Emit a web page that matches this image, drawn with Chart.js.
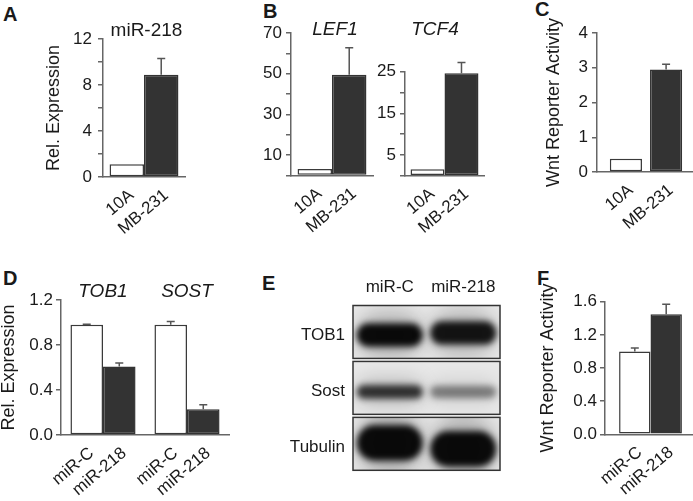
<!DOCTYPE html>
<html>
<head>
<meta charset="utf-8">
<script src="https://cdn.jsdelivr.net/npm/chart.js@4.4.1/dist/chart.umd.min.js"></script>
<style>
  body { margin: 0; background: #fff; width: 693px; height: 501px; overflow: hidden; position: relative;
         font-family: "Liberation Sans", Arial, sans-serif; }
  canvas { position: absolute; }
  .tag { position: absolute; font-weight: bold; font-size: 20px; line-height: 1; color: #1a1a1a; }
</style>
</head>
<body>
<div class="tag" style="left:3px;top:4px">A</div>
<div class="tag" style="left:263px;top:1px">B</div>
<div class="tag" style="left:535px;top:-1px">C</div>
<div class="tag" style="left:3px;top:268px">D</div>
<div class="tag" style="left:262px;top:273px">E</div>
<div class="tag" style="left:537px;top:268px">F</div>

<canvas id="panelA" width="200" height="245" style="left:0px;top:0px;width:200px;height:245px"></canvas>
<canvas id="panelLef1" width="155" height="245" style="left:225px;top:0px;width:155px;height:245px"></canvas>
<canvas id="panelTcf4" width="118" height="245" style="left:372px;top:0px;width:118px;height:245px"></canvas>
<canvas id="panelC" width="175" height="245" style="left:520px;top:0px;width:175px;height:245px"></canvas>
<canvas id="panelD" width="242" height="251" style="left:-2px;top:250px;width:242px;height:251px"></canvas>
<canvas id="panelE" width="250" height="210" style="left:255px;top:280px;width:250px;height:210px"></canvas>
<canvas id="panelF" width="166" height="251" style="left:530px;top:250px;width:166px;height:251px"></canvas>

<script>
// values
const cellLines = ['10A', 'MB-231'];
const mir218Expr = [1.1, 8.9];
const mir218Err = [0, 1.4];
const lef1Expr = [3.2, 49.5];
const lef1Err = [0, 13.3];
const tcf4Expr = [1.6, 24.6];
const tcf4Err = [0, 2.6];
const wntCellLines = [0.38, 2.95];
const wntCellLinesErr = [0, 0.15];

const transfections = ['miR-C', 'miR-218'];
const targetGenes = ['TOB1', 'SOST'];
const targetMirC = [0.98, 0.98];
const targetMirCErr = [0.005, 0.03];
const targetMir218 = [0.61, 0.23];
const targetMir218Err = [0.03, 0.04];
const wntTransfected = [1.0, 1.45];
const wntTransfectedErr = [0.04, 0.12];

const blotProteins = ['TOB1', 'Sost', 'Tubulin'];
const blotMirC = [1.0, 0.8, 1.0];
const blotMir218 = [0.95, 0.45, 1.0];

Chart.defaults.font.family = '"Liberation Sans", Arial, sans-serif';
Chart.defaults.color = '#1a1a1a';

const AXIS = '#666';
const FILLS = ['#ffffff', '#333333'];
const EDGES = ['#3a3a3a', '#333333'];
const LABEL_ANGLE = 40 * Math.PI / 180;

// error bars, slanted labels under each bar, and titles above each group
const barExtras = {
  id: 'barExtras',
  afterDatasetsDraw(chart, args, opts) {
    const ctx = chart.ctx;
    const area = chart.chartArea;
    const y = chart.scales.y;
    ctx.save();
    chart.data.datasets.forEach((ds, i) => {
      chart.getDatasetMeta(i).data.forEach((bar, j) => {
        const err = ds.err[j];
        if (err > 0) {
          const y0 = y.getPixelForValue(ds.data[j]);
          const y1 = y.getPixelForValue(ds.data[j] + err);
          ctx.strokeStyle = '#555';
          ctx.lineWidth = 1.5;
          ctx.beginPath();
          ctx.moveTo(bar.x, y0);
          ctx.lineTo(bar.x, y1);
          ctx.moveTo(bar.x - 4, y1);
          ctx.lineTo(bar.x + 4, y1);
          ctx.stroke();
        }
        ctx.save();
        ctx.translate(bar.x + 5, area.bottom + 16);
        ctx.rotate(-LABEL_ANGLE);
        ctx.font = '17px "Liberation Sans", Arial, sans-serif';
        ctx.fillStyle = '#1a1a1a';
        ctx.textAlign = 'right';
        ctx.textBaseline = 'middle';
        ctx.fillText(ds.label, 0, 0);
        ctx.restore();
      });
    });
    chart.data.labels.forEach((lab, k) => {
      if (!lab) return;
      const x = chart.scales.x.getPixelForValue(k) + (opts.titleDx || 0);
      ctx.font = (opts.italic ? 'italic ' : '') + '19px "Liberation Sans", Arial, sans-serif';
      ctx.fillStyle = '#1a1a1a';
      ctx.textAlign = 'center';
      ctx.textBaseline = 'middle';
      ctx.fillText(lab, x, opts.titleY);
    });
    ctx.restore();
  }
};

function makeBars(id, groups, seriesNames, seriesValues, seriesErrors, cfg) {
  const datasets = seriesNames.map((name, i) => ({
    label: name,
    data: seriesValues[i],
    err: seriesErrors[i],
    backgroundColor: FILLS[i],
    borderColor: EDGES[i],
    borderWidth: 1.5,
    borderSkipped: false,
    barPercentage: cfg.barPct,
    categoryPercentage: cfg.catPct
  }));
  return new Chart(document.getElementById(id), {
    type: 'bar',
    data: { labels: groups, datasets: datasets },
    options: {
      responsive: false,
      animation: false,
      devicePixelRatio: 1,
      layout: { autoPadding: false, padding: { top: cfg.padTop, right: cfg.padRight, left: 0, bottom: 0 } },
      plugins: {
        legend: { display: false },
        tooltip: { enabled: false },
        barExtras: { titleY: cfg.titleY, titleDx: cfg.titleDx, italic: cfg.italic }
      },
      scales: {
        x: {
          type: 'category',
          grid: { display: false },
          ticks: { display: false },
          border: { color: AXIS, width: 1.5 },
          afterFit: s => { s.height = cfg.xH; }
        },
        y: {
          min: 0,
          max: cfg.max,
          grid: { display: true, drawOnChartArea: false, color: AXIS, lineWidth: 1.5, tickLength: 5 },
          border: { color: AXIS, width: 1.5 },
          ticks: {
            stepSize: cfg.step,
            autoSkip: false,
            padding: cfg.tickPad,
            font: { size: 17 },
            color: '#1a1a1a',
            callback: v => (cfg.show(v) ? cfg.fmt(v) : '')
          },
          title: cfg.yTitle ? {
            display: true,
            text: cfg.yTitle,
            font: { size: 18 },
            color: '#1a1a1a',
            padding: { top: cfg.yTitlePad, bottom: 0 }
          } : { display: false },
          afterFit: s => { s.width = cfg.yW; }
        }
      }
    },
    plugins: [barExtras]
  });
}

const whole = v => String(Math.round(v));
const oneDec = v => v.toFixed(1);

makeBars('panelA', ['miR-218'], cellLines,
  [[mir218Expr[0]], [mir218Expr[1]]], [[mir218Err[0]], [mir218Err[1]]], {
    padTop: 39, padRight: 15, yW: 103, xH: 68, max: 12, step: 2, tickPad: 6,
    show: v => Math.round(v) % 4 === 0, fmt: whole,
    yTitle: 'Rel. Expression', yTitlePad: 43.7,
    catPct: 0.84, barPct: 1, titleY: 31, titleDx: 2.5, italic: false
  });

makeBars('panelLef1', ['LEF1'], cellLines,
  [[lef1Expr[0]], [lef1Expr[1]]], [[lef1Err[0]], [lef1Err[1]]], {
    padTop: 33, padRight: 7, yW: 66, xH: 69.5, max: 70, step: 10, tickPad: 4,
    show: v => Math.round(v) % 20 === 10, fmt: whole,
    catPct: 0.84, barPct: 1, titleY: 30, titleDx: 3, italic: true
  });

makeBars('panelTcf4', ['TCF4'], cellLines,
  [[tcf4Expr[0]], [tcf4Expr[1]]], [[tcf4Err[0]], [tcf4Err[1]]], {
    padTop: 71.7, padRight: 6, yW: 33, xH: 69.2, max: 25, step: 5, tickPad: 4,
    show: v => Math.round(v) % 10 === 5, fmt: whole,
    catPct: 0.86, barPct: 1, titleY: 30, titleDx: -9.5, italic: true
  });

makeBars('panelC', [''], cellLines,
  [[wntCellLines[0]], [wntCellLines[1]]], [[wntCellLinesErr[0]], [wntCellLinesErr[1]]], {
    padTop: 33, padRight: 0, yW: 77, xH: 73, max: 4, step: 1, tickPad: 4,
    show: () => true, fmt: whole,
    yTitle: 'Wnt Reporter Activity', yTitlePad: 23.7,
    catPct: 0.82, barPct: 0.8, titleY: 0, italic: false
  });

makeBars('panelD', targetGenes, transfections,
  [targetMirC, targetMir218], [targetMirCErr, targetMir218Err], {
    padTop: 50, padRight: 11, yW: 63, xH: 66, max: 1.2, step: 0.4, tickPad: 3,
    show: () => true, fmt: oneDec,
    yTitle: 'Rel. Expression', yTitlePad: 0,
    catPct: 0.775, barPct: 1, titleY: 42, titleDx: 0, italic: true
  });

makeBars('panelF', [''], transfections,
  [[wntTransfected[0]], [wntTransfected[1]]], [[wntTransfectedErr[0]], [wntTransfectedErr[1]]], {
    padTop: 51.7, padRight: 0, yW: 75, xH: 66.7, max: 1.6, step: 0.4, tickPad: 3,
    show: () => true, fmt: oneDec,
    yTitle: 'Wnt Reporter Activity', yTitlePad: 7.7,
    catPct: 0.69, barPct: 1, titleY: 0, italic: false
  });

// western blot: one framed strip per protein, bands placed on the category scales
const blotBands = {
  id: 'blotBands',
  beforeDatasetsDraw(chart) {
    const ctx = chart.ctx;
    const area = chart.chartArea;
    const xs = chart.scales.x;
    const ys = chart.scales.y;
    const rowPitch = (area.bottom - area.top) / blotProteins.length;
    const lanePitch = (area.right - area.left) / transfections.length;
    const thickness = [0.42, 0.26, 0.64];
    const drift = [[3, 1], [4, 4], [-1, 5]];
    const lanes = [blotMirC, blotMir218];
    blotProteins.forEach((p, i) => {
      const cy = ys.getPixelForValue(i);
      const top = cy - rowPitch / 2 + 1.5;
      const h = rowPitch - 3;
      ctx.save();
      ctx.beginPath();
      ctx.rect(area.left, top, area.right - area.left, h);
      ctx.clip();
      ctx.fillStyle = '#e8e8e8';
      ctx.fillRect(area.left, top, area.right - area.left, h);
      lanes.forEach((vals, j) => {
        const cx = xs.getPixelForValue(j);
        const by = cy + drift[i][j];
        const w = lanePitch * 0.9;
        const bh = rowPitch * thickness[i] * (0.75 + 0.25 * vals[i]);
        // soft haze around the band
        ctx.filter = 'blur(9px)';
        ctx.fillStyle = 'rgba(0,0,0,' + (0.22 * vals[i]) + ')';
        ctx.beginPath();
        ctx.roundRect(cx - w / 2, by - bh, w, bh * 2, bh);
        ctx.fill();
        // band core
        ctx.filter = 'blur(3px)';
        ctx.fillStyle = 'rgba(0,0,0,' + (0.95 * vals[i]) + ')';
        ctx.beginPath();
        ctx.roundRect(cx - w / 2, by - bh / 2, w, bh, bh / 2);
        ctx.fill();
      });
      ctx.restore();
      ctx.strokeStyle = '#333';
      ctx.lineWidth = 1.5;
      ctx.strokeRect(area.left, top, area.right - area.left, h);
    });
  }
};

new Chart(document.getElementById('panelE'), {
  type: 'bar',
  data: { labels: transfections, datasets: [] },
  options: {
    responsive: false,
    animation: false,
    devicePixelRatio: 1,
    layout: { autoPadding: false, padding: { top: 0, right: 5, bottom: 7, left: 0 } },
    plugins: { legend: { display: false }, tooltip: { enabled: false } },
    scales: {
      x: {
        type: 'category', position: 'top', labels: transfections, offset: true,
        grid: { display: false, drawTicks: false }, border: { display: false },
        ticks: { padding: 6, font: { size: 17 }, color: '#1a1a1a' },
        afterFit: s => { s.height = 24; }
      },
      y: {
        type: 'category', labels: blotProteins, offset: true,
        grid: { display: false, drawTicks: false }, border: { display: false },
        ticks: { padding: 8, labelOffset: 3, font: { size: 17 }, color: '#1a1a1a' },
        afterFit: s => { s.width = 98; }
      }
    }
  },
  plugins: [blotBands]
});
</script>
</body>
</html>
